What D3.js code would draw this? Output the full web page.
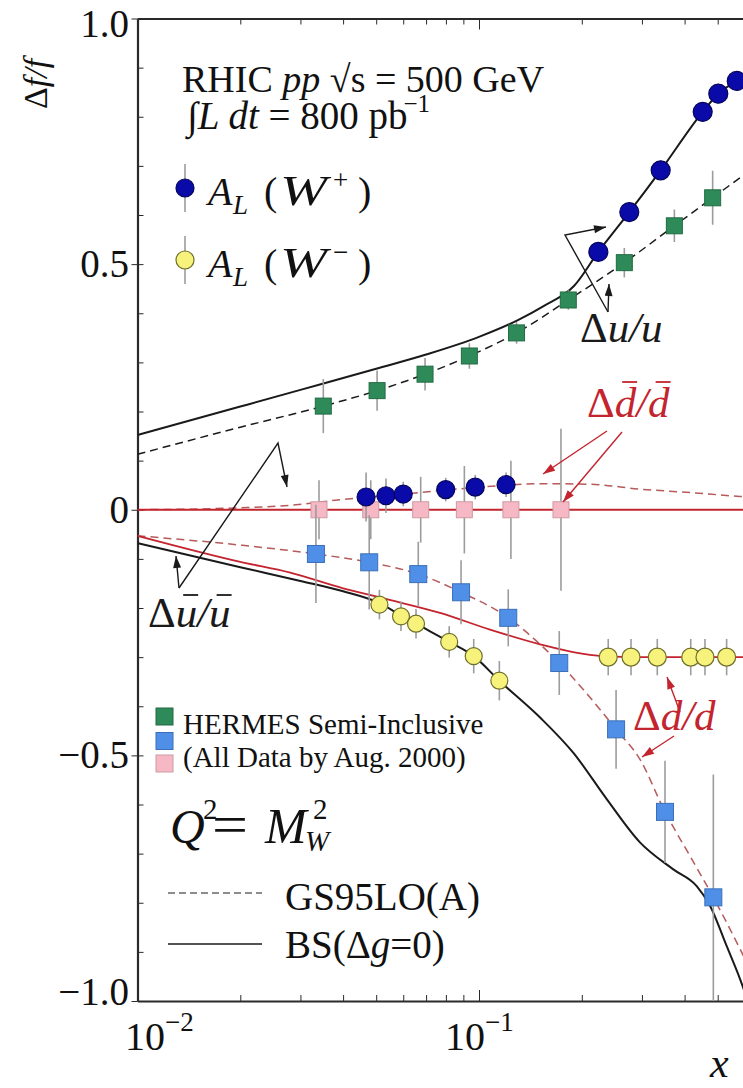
<!DOCTYPE html>
<html>
<head>
<meta charset="utf-8">
<script src="https://cdn.jsdelivr.net/npm/d3@7"></script>
<style>
  html, body { margin: 0; padding: 0; background: #fff; }
  svg { display: block; }
  text { font-family: "Liberation Serif", "DejaVu Serif", serif; fill: #111; }
</style>
</head>
<body>
<svg id="chart" width="743" height="1088"></svg>
<script>
// ---------------- data ----------------
// HERMES semi-inclusive: Δu/u (green), Δd/d (blue), Δd̄/d̄ (pink)
const hermesUx   = [0.035, 0.0503, 0.0695, 0.0937, 0.1288, 0.1826, 0.2664, 0.3733, 0.4833];
const hermesU    = [0.211, 0.2425, 0.276, 0.313, 0.360, 0.427, 0.503, 0.578, 0.635];
const hermesUerr = [0.055, 0.041, 0.033, 0.026, 0.022, 0.020, 0.030, 0.033, 0.055];

const hermesDx   = [0.0333, 0.0477, 0.0664, 0.0886, 0.1218, 0.1718, 0.252, 0.3505, 0.4855];
const hermesD    = [-0.090, -0.107, -0.131, -0.168, -0.220, -0.312, -0.447, -0.615, -0.789];
const hermesDerr = [0.100, 0.096, 0.066, 0.065, 0.058, 0.065, 0.080, 0.104, 0.250];

const hermesDbarX   = [0.034, 0.0482, 0.0675, 0.0906, 0.124, 0.1738];
const hermesDbar    = [0, 0, 0, 0, 0, 0];
const hermesDbarErr = [0.060, 0.060, 0.067, 0.089, 0.100, 0.165];

// RHIC W+ projections (blue): Δu/u and Δd̄/d̄
const wPlusUx   = [0.2236, 0.2755, 0.3404, 0.4519, 0.502, 0.5684];
const wPlusU    = [0.525, 0.606, 0.691, 0.810, 0.847, 0.873];
const wPlusUerr = [0.020, 0.020, 0.020, 0.020, 0.020, 0.020];

const wPlusDbarX   = [0.0467, 0.0534, 0.060, 0.0799, 0.0975, 0.120];
const wPlusDbar    = [0.026, 0.0285, 0.032, 0.041, 0.046, 0.051];
const wPlusDbarErr = [0.050, 0.035, 0.025, 0.024, 0.025, 0.025];

// RHIC W- projections (yellow): Δū/ū and Δd/d
const wMinusUbarX   = [0.0511, 0.0591, 0.0654, 0.0818, 0.0965, 0.1147];
const wMinusUbar    = [-0.193, -0.217, -0.232, -0.269, -0.298, -0.348];
const wMinusUbarErr = [0.030, 0.030, 0.030, 0.032, 0.035, 0.040];

const wMinusDx   = [0.239, 0.2787, 0.3327, 0.4169, 0.4589, 0.531];
const wMinusD    = [-0.300, -0.300, -0.300, -0.300, -0.300, -0.300];
const wMinusDerr = [0.037, 0.037, 0.037, 0.037, 0.037, 0.037];

// model curves [x, Δf/f]
const bsU = [[0.01,0.152],[0.02,0.21],[0.03,0.244],[0.05,0.287],[0.07,0.316],[0.1,0.352],[0.13,0.386],
  [0.155,0.415],[0.19,0.456],[0.2236,0.525],[0.2755,0.606],[0.3404,0.691],[0.4519,0.81],[0.502,0.847],
  [0.5684,0.873],[0.65,0.9],[1,0.97]];
const gsU = [[0.01,0.113],[0.02,0.168],[0.035,0.211],[0.0503,0.2425],[0.0695,0.276],[0.0937,0.313],
  [0.1288,0.36],[0.1826,0.427],[0.2664,0.503],[0.3733,0.578],[0.4833,0.635],[0.593,0.68],[1,0.78]];
const bsDbar = [[0.01,0],[1,0]];
const gsDbar = [[0.01,0],[0.02,0.004],[0.028,0.009],[0.04,0.021],[0.05,0.027],[0.06,0.032],[0.08,0.04],
  [0.1,0.046],[0.12,0.05],[0.15,0.053],[0.21,0.052],[0.296,0.042],[0.415,0.035],[0.581,0.027],[1,0.018]];
const bsUbar = [[0.01,-0.068],[0.02,-0.117],[0.03,-0.145],[0.04,-0.166],[0.0511,-0.19],[0.0591,-0.215],
  [0.0654,-0.232],[0.0818,-0.269],[0.0965,-0.298],[0.1147,-0.348],[0.151,-0.423],[0.189,-0.495],
  [0.2366,-0.589],[0.296,-0.677],[0.3707,-0.732],[0.434,-0.766],[0.4748,-0.806],[0.531,-0.888],
  [0.581,-0.955],[0.62,-1.01]];
const bsD = [[0.01,-0.053],[0.02,-0.106],[0.028,-0.128],[0.04,-0.16],[0.0537,-0.182],[0.0769,-0.21],
  [0.1077,-0.244],[0.151,-0.274],[0.2,-0.293],[0.24,-0.299],[0.3,-0.3],[1,-0.3]];
const gsD = [[0.01,-0.053],[0.02,-0.072],[0.0333,-0.09],[0.0477,-0.107],[0.0664,-0.131],[0.0886,-0.168],
  [0.1218,-0.22],[0.151,-0.274],[0.1718,-0.312],[0.202,-0.366],[0.252,-0.447],[0.296,-0.508],
  [0.3505,-0.615],[0.415,-0.705],[0.4855,-0.789],[0.581,-0.894],[0.7,-1.01]];

const yTickValues = [1.0, 0.5, 0, -0.5, -1.0];
const yTickLabels = ["1.0", "0.5", "0", "\u22120.5", "\u22121.0"];
const xMajorTicks = [0.01, 0.1, 1];
const xMajorExp   = ["\u22122", "\u22121", "0"];

// ---------------- layout ----------------
const svg = d3.select("#chart");
const plotL = 137.5, plotR = 820.5, plotT = 18.5, plotB = 1001;
const x = d3.scaleLog().domain([0.01, 1]).range([plotL, plotR]);
const y = d3.scaleLinear().domain([-1, 1]).range([plotB, plotT]);

const RED = "#c3242e", RED_DASH = "#b65a5a", BLACK = "#1a1a1a", ERR = "#9c9c9c";

const defs = svg.append("defs");
defs.append("clipPath").attr("id", "plot")
  .append("rect").attr("x", plotL).attr("y", plotT).attr("width", plotR - plotL).attr("height", plotB - plotT);
function arrowMarker(id, color) {
  defs.append("marker").attr("id", id).attr("viewBox", "0 0 12 8")
    .attr("refX", 12).attr("refY", 4).attr("markerWidth", 13).attr("markerHeight", 8)
    .attr("markerUnits", "userSpaceOnUse").attr("orient", "auto")
    .append("path").attr("d", "M0,0 L12,4 L0,8 Z").attr("fill", color);
}
arrowMarker("arrK", BLACK);
arrowMarker("arrR", RED);

// ---------------- axes ----------------
const minorX = [];
for (let d = 0.01; d < 1; d *= 10) for (let k = 2; k <= 9; k++) minorX.push(+(k * d).toPrecision(3));
const minorY = d3.range(-10, 11).map(i => i / 10).filter(v => !yTickValues.includes(v));

const axisStyle = g => { g.selectAll("path, line").attr("stroke", "#2a2a2a"); g.selectAll("text").remove(); };

svg.append("g").attr("transform", `translate(0,${plotB})`)
  .call(d3.axisBottom(x).tickValues(minorX).tickSize(-6).tickSizeOuter(0).tickFormat(""))
  .call(axisStyle).call(g => g.select(".domain").attr("stroke-width", 2.2));
svg.append("g").attr("transform", `translate(0,${plotB})`)
  .call(d3.axisBottom(x).tickValues(xMajorTicks).tickSize(-11).tickSizeOuter(0).tickFormat(""))
  .call(axisStyle).call(g => g.select(".domain").remove());
svg.append("g").attr("transform", `translate(0,${plotT})`)
  .call(d3.axisTop(x).tickValues(minorX).tickSize(-6).tickSizeOuter(0).tickFormat(""))
  .call(axisStyle).call(g => g.select(".domain").attr("stroke-width", 2));
svg.append("g").attr("transform", `translate(0,${plotT})`)
  .call(d3.axisTop(x).tickValues(xMajorTicks).tickSize(-11).tickSizeOuter(0).tickFormat(""))
  .call(axisStyle).call(g => g.select(".domain").remove());
svg.append("g").attr("transform", `translate(${plotL},0)`)
  .call(d3.axisLeft(y).tickValues(minorY).tickSize(-6).tickSizeOuter(0).tickFormat(""))
  .call(axisStyle).call(g => g.select(".domain").attr("stroke-width", 2.2));
svg.append("g").attr("transform", `translate(${plotL},0)`)
  .call(d3.axisLeft(y).tickValues(yTickValues).tickSize(6).tickSizeOuter(0).tickFormat(""))
  .call(axisStyle).call(g => g.select(".domain").remove());
svg.append("g").attr("transform", `translate(${plotL},0)`)
  .call(d3.axisLeft(y).tickValues(yTickValues).tickSize(-6).tickSizeOuter(0).tickFormat(""))
  .call(axisStyle).call(g => g.select(".domain").remove());

// y tick labels
svg.append("g").selectAll("text").data(yTickValues).join("text")
  .attr("x", 129).attr("text-anchor", "end").attr("font-size", 39)
  .attr("y", v => Math.min(Math.max(y(v), 24), 992) + 13)
  .text((v, i) => yTickLabels[i]);

// x tick labels (powers of ten)
xMajorTicks.forEach((v, i) => {
  const px = x(v);
  if (px > 740) return;
  const t = svg.append("text").attr("x", Math.max(px - 34, 125)).attr("y", 1050).attr("font-size", 40);
  t.append("tspan").text("10");
  t.append("tspan").attr("font-size", 27).attr("dy", -19).text(xMajorExp[i]);
});

// axis titles
svg.append("text").attr("transform", "translate(47,84) rotate(-90)").attr("text-anchor", "middle")
  .attr("font-size", 34)
  .call(t => { t.append("tspan").text("\u0394"); t.append("tspan").attr("font-style", "italic").text("f/f"); });
svg.append("text").attr("x", 710).attr("y", 1077).attr("font-size", 42).attr("font-style", "italic").text("x");

// ---------------- curves ----------------
const plot = svg.append("g").attr("clip-path", "url(#plot)");
const line = d3.line().x(d => x(d[0])).y(d => y(d[1])).curve(d3.curveMonotoneX);
const curve = (data, color, width, dash) => plot.append("path").datum(data)
  .attr("d", line).attr("fill", "none").attr("stroke", color).attr("stroke-width", width)
  .attr("stroke-dasharray", dash || null);

curve(gsU, BLACK, 1.5, "8,5");
curve(bsU, BLACK, 2);
curve(gsDbar, RED_DASH, 1.5, "8,5");
curve(bsDbar, RED, 1.8);
curve(gsD, RED_DASH, 1.5, "8,5");
curve(bsD, RED, 1.8);
curve(bsUbar, BLACK, 2);

// ---------------- points ----------------
function errorBars(xs, vs, es) {
  plot.append("g").selectAll("line").data(xs).join("line")
    .attr("x1", d => x(d)).attr("x2", d => x(d))
    .attr("y1", (d, i) => y(vs[i] + es[i])).attr("y2", (d, i) => y(vs[i] - es[i]))
    .attr("stroke", ERR).attr("stroke-width", 1.6);
}
function squares(xs, vs, es, fill, stroke, size) {
  errorBars(xs, vs, es);
  plot.append("g").selectAll("rect").data(xs).join("rect")
    .attr("x", d => x(d) - size / 2).attr("y", (d, i) => y(vs[i]) - size / 2)
    .attr("width", size).attr("height", size)
    .attr("fill", fill).attr("stroke", stroke).attr("stroke-width", 1);
}
function circles(xs, vs, es, fill, stroke, r) {
  errorBars(xs, vs, es);
  plot.append("g").selectAll("circle").data(xs).join("circle")
    .attr("cx", d => x(d)).attr("cy", (d, i) => y(vs[i])).attr("r", r)
    .attr("fill", fill).attr("stroke", stroke).attr("stroke-width", 1.2);
}

squares(hermesDbarX, hermesDbar, hermesDbarErr, "#f5b8c4", "#cf9aa2", 16);
squares(hermesDx, hermesD, hermesDerr, "#4f8fe8", "#3a6fb8", 17);
squares(hermesUx, hermesU, hermesUerr, "#2e8a58", "#226b43", 16);
circles(wPlusDbarX, wPlusDbar, wPlusDbarErr, "#0a0aa8", "#05055e", 9);
circles(wPlusUx, wPlusU, wPlusUerr, "#0a0aa8", "#05055e", 9.5);
circles(wMinusUbarX, wMinusUbar, wMinusUbarErr, "#f6f27c", "#6f6f2a", 8.5);
circles(wMinusDx, wMinusD, wMinusDerr, "#f6f27c", "#6f6f2a", 9);

// ---------------- labels and arrows ----------------
const ann = svg.append("g");
function path(pts, color, marker) {
  ann.append("path").attr("d", d3.line()(pts)).attr("fill", "none")
    .attr("stroke", color).attr("stroke-width", 1.4)
    .attr("marker-end", marker ? `url(#${marker})` : null);
}
function ratioLabel(px, py, letter, color, bars) {
  const t = ann.append("text").attr("x", px).attr("y", py).attr("font-size", 43)
    .style("fill", color);
  t.append("tspan").text("\u0394");
  t.append("tspan").attr("font-style", "italic").text(letter + "/" + letter);
  if (bars) {
    [1, 3].forEach(i => {
      const b = t.node().getExtentOfChar(i);
      const yb = letter === "d" ? py - 35 : py - 32;
      ann.append("line").attr("x1", b.x + b.width * 0.35).attr("x2", b.x + b.width + 1)
        .attr("y1", yb).attr("y2", yb).attr("stroke", color).attr("stroke-width", 1.8);
    });
  }
}

// Δu/u
ratioLabel(580, 342, "u", BLACK, false);
path([[608, 312], [565, 235], [606, 227]], BLACK, "arrK");
path([[608, 312], [609, 284]], BLACK, "arrK");
// Δū/ū
ratioLabel(148, 627, "u", BLACK, true);
path([[179, 588], [176, 556]], BLACK, "arrK");
path([[179, 588], [278, 443], [287, 487]], BLACK, "arrK");
// Δd̄/d̄
ratioLabel(587, 417, "d", RED, true);
path([[607, 431], [543, 474]], RED, "arrR");
path([[622, 432], [563, 502]], RED, "arrR");
// Δd/d
ratioLabel(633, 730, "d", RED, false);
path([[680, 712], [667, 677]], RED, "arrR");
path([[674, 736], [642, 757]], RED, "arrR");

// run conditions
const t1 = ann.append("text").attr("x", 182).attr("y", 92).attr("font-size", 38);
t1.append("tspan").text("RHIC ");
t1.append("tspan").attr("font-style", "italic").text("pp");
t1.append("tspan").text(" \u221As = 500 GeV");
const t2 = ann.append("text").attr("x", 187).attr("y", 129).attr("font-size", 39);
t2.append("tspan").text("\u222B");
t2.append("tspan").attr("font-style", "italic").text("L dt");
t2.append("tspan").text(" = 800 pb");
t2.append("tspan").attr("font-size", 25).attr("dy", -17).attr("dx", -4).text("\u22121");

// W legend
function wLegend(cy, fill, stroke, sign) {
  ann.append("line").attr("x1", 185).attr("x2", 185).attr("y1", cy - 24).attr("y2", cy + 24)
    .attr("stroke", ERR).attr("stroke-width", 1.6);
  ann.append("circle").attr("cx", 185).attr("cy", cy).attr("r", 9).attr("fill", fill)
    .attr("stroke", stroke).attr("stroke-width", 1.2);
  const b = cy + 17;
  const t = ann.append("text").attr("y", b).attr("font-size", 40);
  t.append("tspan").attr("x", 208).attr("y", b).attr("font-style", "italic").text("A");
  t.append("tspan").attr("x", 233).attr("y", b + 9).attr("font-style", "italic").attr("font-size", 27).text("L");
  t.append("tspan").attr("x", 264).attr("y", b).text("(");
  ann.append("text").attr("x", 280).attr("y", b).attr("font-size", 42).attr("font-style", "italic")
    .attr("textLength", 47).attr("lengthAdjust", "spacingAndGlyphs").text("W");
  const t3 = ann.append("text").attr("y", b).attr("font-size", 40);
  t3.append("tspan").attr("x", 333).attr("y", b - 16).attr("font-size", 27).text(sign);
  t3.append("tspan").attr("x", 358).attr("y", b).text(")");
}
wLegend(188, "#0a0aa8", "#05055e", "+");
wLegend(260, "#f6f27c", "#6f6f2a", "\u2212");

// HERMES legend
[["#2e8a58", "#226b43", 716.5], ["#4f8fe8", "#3a6fb8", 741], ["#f5b8c4", "#cf9aa2", 763.5]].forEach(s => {
  ann.append("rect").attr("x", 156).attr("y", s[2] - 8.5).attr("width", 17).attr("height", 17)
    .attr("fill", s[0]).attr("stroke", s[1]).attr("stroke-width", 1);
});
ann.append("text").attr("x", 183).attr("y", 734).attr("font-size", 29).text("HERMES Semi-Inclusive");
ann.append("text").attr("x", 183).attr("y", 767).attr("font-size", 29).text("(All Data by Aug. 2000)");

// Q² = M_W²
const qb = 843;
const q = ann.append("text").attr("y", qb).attr("font-size", 48);
q.append("tspan").attr("x", 170).attr("y", qb).attr("font-style", "italic").text("Q");
q.append("tspan").attr("x", 203).attr("y", qb - 24).attr("font-size", 29).text("2");
q.append("tspan").attr("x", 212).attr("y", qb).attr("font-size", 54).attr("textLength", 36)
  .attr("lengthAdjust", "spacingAndGlyphs").text("=");
q.append("tspan").attr("x", 265).attr("y", qb).attr("font-size", 50).attr("font-style", "italic").text("M");
q.append("tspan").attr("x", 313).attr("y", qb - 24).attr("font-size", 29).text("2");
q.append("tspan").attr("x", 305).attr("y", qb + 8).attr("font-size", 29).attr("font-style", "italic").text("W");

// model legend
ann.append("line").attr("x1", 168).attr("x2", 262).attr("y1", 893).attr("y2", 893)
  .attr("stroke", BLACK).attr("stroke-width", 1.2).attr("stroke-dasharray", "7,4");
ann.append("line").attr("x1", 168).attr("x2", 262).attr("y1", 944).attr("y2", 944)
  .attr("stroke", BLACK).attr("stroke-width", 1.4);
ann.append("text").attr("x", 285).attr("y", 910).attr("font-size", 39).text("GS95LO(A)");
const bs = ann.append("text").attr("x", 285).attr("y", 958).attr("font-size", 39);
bs.append("tspan").text("BS(\u0394");
bs.append("tspan").attr("font-style", "italic").text("g");
bs.append("tspan").text("=0)");
</script>
</body>
</html>
